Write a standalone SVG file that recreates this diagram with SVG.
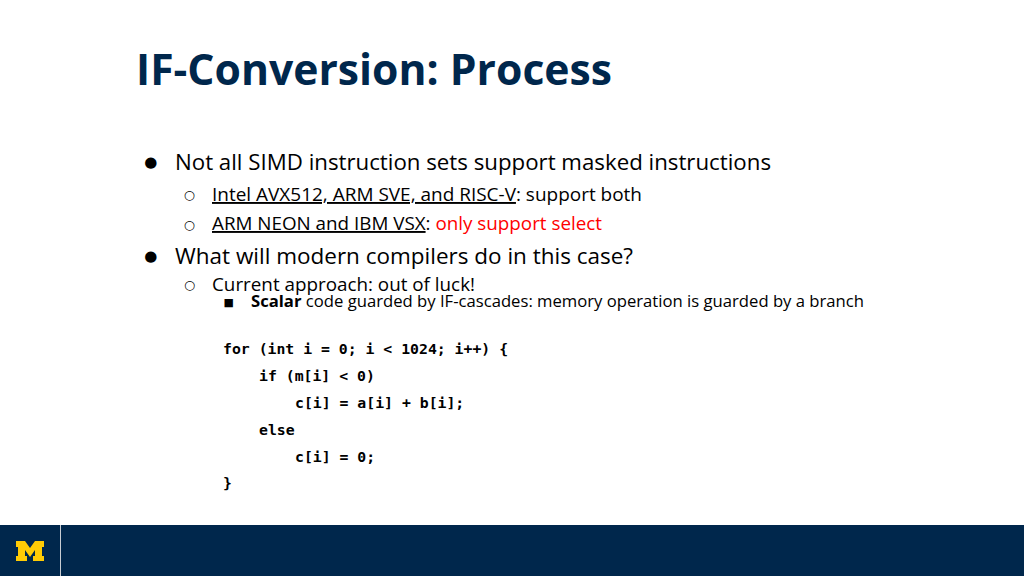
<svg xmlns="http://www.w3.org/2000/svg" width="1024" height="576" viewBox="0 0 1024 576">
<style>
text{font-family:"Open Sans","Noto Sans","Liberation Sans",sans-serif;fill:#000;white-space:pre}
.t{font-size:43px;font-weight:700;fill:#00274c}
.a{font-size:22.4px}.b{font-size:19px}.c{font-size:16.6px}
.d{font-family:"DejaVu Sans",sans-serif}
.p{font-size:15px}.h{font-size:12.5px;font-weight:700}
.m{font-family:"DejaVu Sans Mono","Liberation Mono",monospace;font-size:14.8px;font-weight:700}
.r{fill:#f00}
</style>
<rect width="1024" height="576" fill="#fff"/>
<g id="title"><text class="t" x="136" y="85" textLength="476" lengthAdjust="spacingAndGlyphs">IF-Conversion: Process</text></g>
<g id="bullets">
<text class="d p" x="144.2" y="167.4">●</text><text class="a" x="175" y="170" textLength="596" lengthAdjust="spacingAndGlyphs">Not all SIMD instruction sets support masked instructions</text>
<text class="d h" x="183.7" y="199.1">○</text><text class="b" x="212" y="201" textLength="430" lengthAdjust="spacingAndGlyphs"><tspan text-decoration="underline">Intel AVX512, ARM SVE, and RISC-V</tspan>: support both</text>
<text class="d h" x="183.7" y="228.6">○</text><text class="b" x="212" y="230" textLength="390" lengthAdjust="spacingAndGlyphs"><tspan text-decoration="underline">ARM NEON and IBM VSX</tspan>: <tspan class="r">only support select</tspan></text>
<text class="d p" x="144.2" y="261.4">●</text><text class="a" x="175" y="264" textLength="458" lengthAdjust="spacingAndGlyphs">What will modern compilers do in this case?</text>
<text class="d h" x="184" y="288.6">○</text><text class="b" x="212" y="291" textLength="263" lengthAdjust="spacingAndGlyphs">Current approach: out of luck!</text>
<text class="d" font-size="11" x="223.5" y="306">■</text><text class="c" x="251" y="307" textLength="613" lengthAdjust="spacingAndGlyphs"><tspan font-weight="700">Scalar</tspan> code guarded by IF-cascades: memory operation is guarded by a branch</text>
</g>
<g id="code">
<text class="m" x="223" y="354">for (int i = 0; i &lt; 1024; i++) {</text>
<text class="m" x="259" y="381">if (m[i] &lt; 0)</text>
<text class="m" x="295" y="408">c[i] = a[i] + b[i];</text>
<text class="m" x="259" y="435">else</text>
<text class="m" x="295" y="462">c[i] = 0;</text>
<text class="m" x="223" y="488">}</text>
</g>
<g id="footer">
<rect y="525" width="1024" height="51" fill="#00274c"/>
<rect x="60" y="525" width="1" height="51" fill="#c8ccd2"/>
<path d="M16 541h9l5 7 5-7h9v6h-2v9h2v5H33v-5h2v-6l-5 7-5-7v6h2v5H16v-5h2v-9h-2z" fill="#ffcb05"/>
</g>
</svg>
